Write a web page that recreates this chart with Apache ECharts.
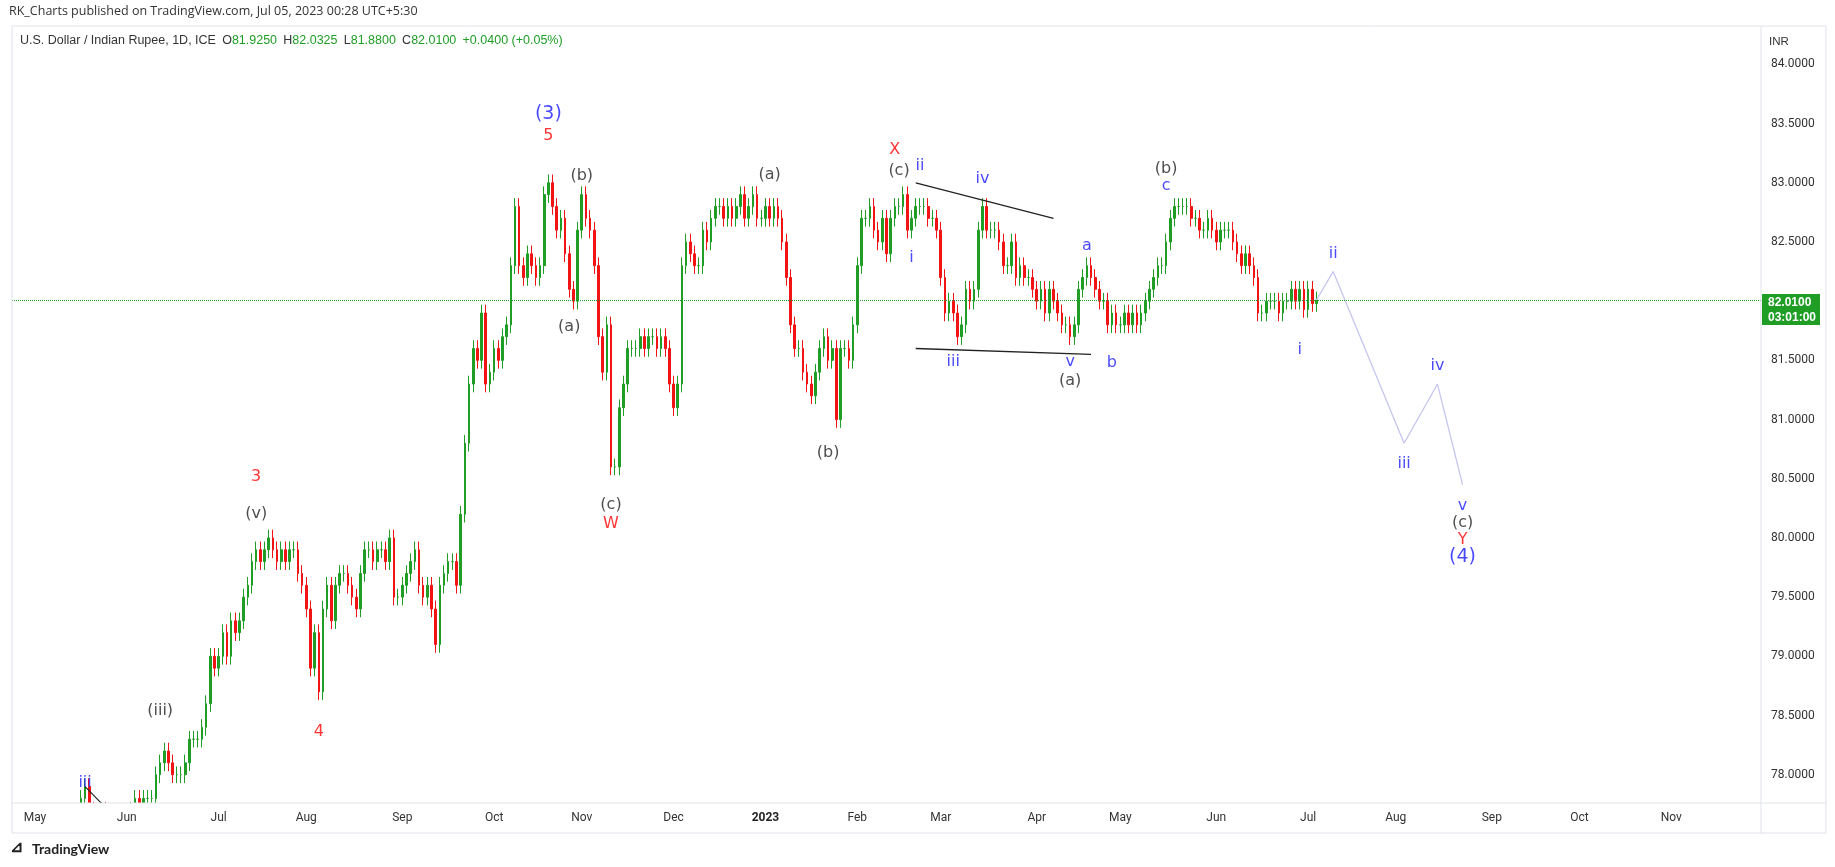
<!DOCTYPE html>
<html><head><meta charset="utf-8">
<script src="https://cdn.jsdelivr.net/npm/echarts@6/dist/echarts.min.js"></script>
<style>html,body{margin:0;padding:0;background:#fff}#c{width:1835px;height:867px}</style>
</head><body><div id="c"></div>
<script>
// daily closes from 2022-05-02, one row per week
var closes = [
 76.5,76.4,76.6,76.9,77.4, 77.4,77.3,77.3,77.5,77.6, 77.6,77.8,77.9,77.7,77.6,
 77.6,77.7,77.6,77.6,77.6, 77.6,77.6,77.6,77.7,77.8, 77.7,77.8,77.8,77.8,78.0,
 78.1,78.2,78.1,78.0,78.0, 78.0,78.1,78.3,78.3,78.3, 78.4,78.6,79.0,78.9,79.0,
 79.2,79.0,79.3,79.2,79.3, 79.5,79.6,79.8,79.9,79.8, 79.9,80.0,79.9,79.8,79.9,
 79.8,79.9,79.9,79.7,79.6, 79.4,78.9,79.2,78.7,79.4, 79.6,79.3,79.6,79.7,79.7,
 79.6,79.5,79.4,79.7,79.9, 79.9,79.8,79.9,79.9,79.8, 80.0,79.5,79.5,79.6,79.7,
 79.8,79.9,79.6,79.5,79.6, 79.4,79.1,79.6,79.7,79.8, 79.8,79.6,80.2,80.8,81.3,
 81.6,81.5,81.9,81.3,81.4, 81.6,81.5,81.7,81.8,82.3, 82.8,82.3,82.2,82.4,82.3,
 82.2,82.3,82.9,83.0,82.8, 82.6,82.7,82.4,82.1,82.0, 82.6,82.9,82.7,82.6,82.3,
 81.7,81.4,81.8,80.6,80.6, 81.1,81.3,81.6,81.6,81.6, 81.7,81.6,81.7,81.7,81.6,
 81.7,81.6,81.3,81.1,81.3, 82.3,82.5,82.4,82.3,82.3, 82.6,82.5,82.7,82.8,82.8,
 82.7,82.8,82.7,82.8,82.9, 82.7,82.8,82.9,82.7,82.7, 82.8,82.7,82.8,82.7,82.5,
 82.2,81.8,81.6,81.6,81.4, 81.3,81.2,81.4,81.6,81.7, 81.5,81.6,81.0,81.6,81.6,
 81.5,81.8,82.3,82.7,82.7, 82.8,82.6,82.5,82.7,82.4, 82.7,82.8,82.8,82.9,82.6,
 82.7,82.8,82.8,82.8,82.7, 82.7,82.6,82.2,81.9,82.0, 81.9,81.7,81.8,82.1,82.0,
 82.1,82.6,82.8,82.6,82.6, 82.6,82.5,82.3,82.3,82.5, 82.2,82.3,82.2,82.2,82.1,
 82.0,82.1,81.9,82.1,82.0, 81.9,81.8,81.8,81.7,81.8, 82.1,82.2,82.3,82.2,82.1,
 82.0,82.0,81.8,81.9,81.8, 81.8,81.9,81.8,81.9,81.8, 81.9,82.0,82.1,82.2,82.3,
 82.3,82.5,82.7,82.8,82.8, 82.8,82.8,82.7,82.7,82.6, 82.6,82.7,82.6,82.5,82.6,
 82.6,82.6,82.5,82.4,82.3, 82.4,82.3,82.2,81.9,81.9, 82.0,82.0,82.0,81.9,82.0,
 82.0,82.1,82.0,82.1,81.93, 82.1,81.98,82.01
];
var firstDate = '2022-05-02';
var axisStart = '2022-04-25', axisEnd = '2023-11-30';
var wick = 0.07;

var projection = [['2023-07-05',82.01],['2023-07-11',82.25],['2023-08-03',80.8],['2023-08-15',81.3],['2023-08-23',80.45]];
var trendUpper = [['2023-02-21',83.0],['2023-04-07',82.7]];
var trendLower = [['2023-02-21',81.6],['2023-04-20',81.55]];
var trendSmall = [['2022-05-18',77.9],['2022-05-25',77.72]];

// [date, price, text, colour]
var waveLabels = [
 ['2022-10-20',83.58,'(3)','#1a1aff'],['2022-10-20',83.40,'5','#f00'],
 ['2022-11-01',83.06,'(b)','#222'],['2022-10-27',81.78,'(a)','#222'],
 ['2022-11-10',80.28,'(c)','#222'],['2022-11-10',80.12,'W','#f00'],
 ['2023-01-03',83.07,'(a)','#222'],['2023-01-23',80.72,'(b)','#222'],
 ['2023-02-14',83.28,'X','#f00'],['2023-02-15',83.10,'(c)','#222'],
 ['2023-02-22',83.14,'ii','#1a1aff'],['2023-02-20',82.37,'i','#1a1aff'],
 ['2023-03-15',83.03,'iv','#1a1aff'],['2023-03-06',81.49,'iii','#1a1aff'],
 ['2023-04-13',81.49,'v','#1a1aff'],['2023-04-13',81.33,'(a)','#222'],
 ['2023-04-19',82.47,'a','#1a1aff'],['2023-04-27',81.48,'b','#1a1aff'],
 ['2023-05-16',83.12,'(b)','#222'],['2023-05-16',82.97,'c','#1a1aff'],
 ['2023-07-11',82.40,'ii','#1a1aff'],['2023-06-29',81.59,'i','#1a1aff'],
 ['2023-08-03',80.63,'iii','#1a1aff'],['2023-08-15',81.45,'iv','#1a1aff'],
 ['2023-08-23',80.27,'v','#1a1aff'],['2023-08-23',80.13,'(c)','#222'],
 ['2023-08-23',79.98,'Y','#f00'],['2023-08-23',79.84,'(4)','#1a1aff'],
 ['2022-07-14',80.52,'3','#f00'],['2022-07-14',80.20,'(v)','#222'],
 ['2022-08-04',78.36,'4','#f00'],['2022-06-13',78.54,'(iii)','#222'],
 ['2022-05-18',77.93,'iii','#1a1aff']
];

function fmt(d){return d.toISOString().slice(0,10);}
var dates = [];
for (var d = new Date(axisStart+'T00:00:00Z'); fmt(d) <= axisEnd; d.setUTCDate(d.getUTCDate()+1)) {
  var w = d.getUTCDay();
  if (w !== 0 && w !== 6) dates.push(fmt(d));
}
var startIdx = dates.indexOf(firstDate);
var candles = dates.map(function(){return '-';});
closes.forEach(function(c,i){
  var o = i === 0 ? c : closes[i-1];
  candles[startIdx+i] = [o, c, Math.min(o,c)-wick, Math.max(o,c)+wick];
});
var monthFirst = {};
var mnames = ['Jan','Feb','Mar','Apr','May','Jun','Jul','Aug','Sep','Oct','Nov','Dec'];
dates.forEach(function(s,i){
  var k = s.slice(0,7);
  if (!(k in monthFirst) && s.slice(8) <= '05' && i > 0) monthFirst[k] = i;
});
var firstIdx = {}; Object.keys(monthFirst).forEach(function(k){firstIdx[monthFirst[k]] = k;});

var chart = echarts.init(document.getElementById('c'));
var lineS = function(data, color, w){return {type:'line', data:data, symbol:'none', silent:true,
  lineStyle:{color:color, width:w}, z:3};};
var FONT = 'Roboto, "Open Sans", sans-serif';
chart.setOption({
  animation:false,
  textStyle:{fontFamily:FONT},
  grid:{left:12, right:1835-1761, top:5.2, bottom:867-833.9},
  xAxis:{type:'category', data:dates, boundaryGap:true, offset:-30, z:200,
    axisLine:{show:false}, axisTick:{show:false}, splitLine:{show:false},
    axisLabel:{interval:function(i){return i in firstIdx;}, color:'#333', fontSize:12,
      formatter:function(v){var m = +v.slice(5,7); return m===1 ? '{b|'+v.slice(0,4)+'}' : mnames[m-1];},
      rich:{b:{fontWeight:'bold', fontSize:12, color:'#222'}}}},
  yAxis:{type:'value', position:'right', min:77.5, max:84.5, interval:0.5, z:200,
    axisLine:{show:false}, axisTick:{show:false}, splitLine:{show:false},
    axisLabel:{color:'#333', fontSize:12, margin:10,
      formatter:function(v){return (v < 77.9 || v > 84.1) ? '' : v.toFixed(4);}}},
  series:[
    {type:'candlestick', data:candles, barMaxWidth:3, z:2,
     itemStyle:{color:'#1f9d25', color0:'#f21414', borderColor:'#1f9d25', borderColor0:'#f21414', borderWidth:1},
     markLine:{symbol:'none', silent:true, data:[{yAxis:82.01}], label:{show:false},
       lineStyle:{color:'#1f9d25', type:'dotted', width:1}}},
    lineS(projection, '#c5c5f0', 1.3),
    lineS(trendUpper, '#222', 1.3),
    lineS(trendLower, '#222', 1.3),
    lineS(trendSmall, '#222', 1.2),
    {type:'scatter', symbolSize:0, silent:true, z:5,
     data:waveLabels.map(function(l){return {value:[l[0],l[1]],
       label:{show:true, formatter:l[2], color:l[3], fontSize:(l[2]==='(3)'||l[2]==='(4)')?19:16,
         fontFamily:'"DejaVu Sans", sans-serif', position:'inside'}};})}
  ],
  graphic:[
    {type:'rect', shape:{x:0,y:0,width:1835,height:26}, style:{fill:'#fff'}, z:100},
    {type:'rect', shape:{x:0,y:803,width:1835,height:64}, style:{fill:'#fff'}, z:100},
    {type:'line', shape:{x1:12,y1:26,x2:1826,y2:26}, style:{stroke:'#e0e3eb'}, z:101},
    {type:'line', shape:{x1:12,y1:803,x2:1826,y2:803}, style:{stroke:'#e0e3eb'}, z:101},
    {type:'line', shape:{x1:1761,y1:26,x2:1761,y2:833}, style:{stroke:'#e0e3eb'}, z:101},
    {type:'line', shape:{x1:12,y1:833,x2:1826,y2:833}, style:{stroke:'#e0e3eb'}, z:101},
    {type:'line', shape:{x1:12,y1:26,x2:12,y2:833}, style:{stroke:'#e0e3eb'}, z:101},
    {type:'line', shape:{x1:1826,y1:26,x2:1826,y2:833}, style:{stroke:'#e0e3eb'}, z:101},
    {type:'text', left:9, top:5, z:102, style:{text:'RK_Charts published on TradingView.com, Jul 05, 2023 00:28 UTC+5:30', fill:'#333', fontSize:12.5, fontFamily:'Open Sans, sans-serif'}},
    {type:'text', left:20, top:34, z:102, style:{fontFamily:'Open Sans, sans-serif',
      text:'{k|U.S. Dollar / Indian Rupee, 1D, ICE}  {k|O}{g|81.9250}  {k|H}{g|82.0325}  {k|L}{g|81.8800}  {k|C}{g|82.0100}  {g|+0.0400 (+0.05%)}',
      rich:{k:{fill:'#333', fontSize:12.5}, g:{fill:'#1f9d25', fontSize:12.5}}}},
    {type:'text', left:1769, top:36, z:102, style:{text:'INR', fill:'#333', fontSize:11.5}},
    {type:'rect', shape:{x:1762,y:294,width:58,height:31}, style:{fill:'#1f9d25'}, z:300},
    {type:'text', left:1768, top:295, z:301, style:{text:'82.0100\n03:01:00', fill:'#fff', fontSize:12, fontWeight:'bold', lineHeight:15}},
    {type:'text', left:32, top:842, z:102, style:{text:'TradingView', fill:'#222', fontSize:14, fontWeight:'bold', fontFamily:'Lato, sans-serif'}},
    {type:'text', left:10, top:840, z:102, style:{text:'⊿', fill:'#222', fontSize:16, fontWeight:'bold'}}
  ]
});
</script></body></html>
